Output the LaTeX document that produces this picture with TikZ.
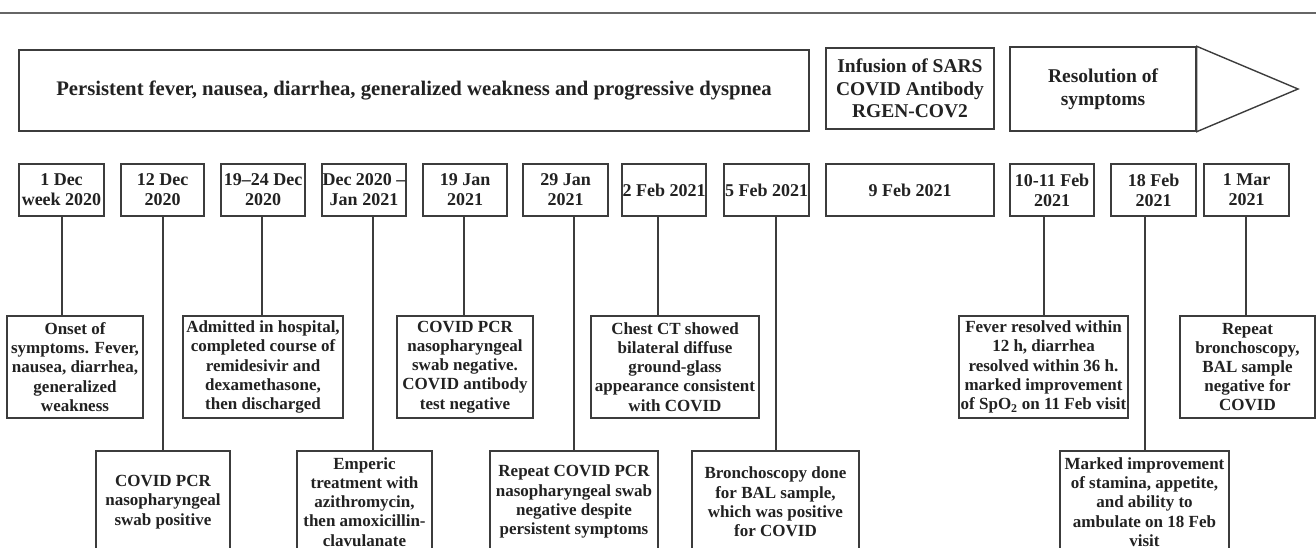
\documentclass[tikz,border=0pt]{standalone}
\usepackage{fontspec}
\setmainfont{Liberation Serif}
\definecolor{linec}{HTML}{3C3C3C}
\definecolor{textc}{HTML}{222222}
\definecolor{rulec}{HTML}{666666}
\tikzset{
  box/.style={draw=linec, line width=1.4pt, fill=white, inner sep=0pt, align=center,
    text=textc, font=\bfseries\fontsize{17}{19.2}\selectfont},
  datebox/.style={box, minimum width=84pt, minimum height=52pt,
    font=\bfseries\fontsize{18}{20}\selectfont},
  topbox/.style={box, minimum height=81pt, font=\bfseries\fontsize{19.5}{22.5}\selectfont},
  evbox/.style={box, minimum height=102pt},
  conn/.style={draw=linec, line width=1.4pt},
  toprule/.style={draw=rulec, line width=2pt}
}
\begin{document}
\begin{tikzpicture}[x=1pt,y=-1pt]
\useasboundingbox (0,0) rectangle (1316,548);
\clip (0,0) rectangle (1316,548);
\draw[toprule] (0,13) -- (1316,13);

% top band
\node[topbox, minimum width=790pt, font=\bfseries\fontsize{20.7}{24}\selectfont] (sym) at (414,90.5) {Persistent fever, nausea, diarrhea, generalized weakness and progressive dyspnea};
\node[topbox, minimum width=168pt] (inf) at (910,88.5) {Infusion of SARS\\COVID Antibody\\RGEN-COV2};
\node[topbox, minimum width=186pt, minimum height=84pt] (res) at (1103,89) {Resolution of\\symptoms};
\coordinate (tip) at (1298,89);
\draw[conn, line join=miter] (res.north east) -- (tip) -- (res.south east) -- cycle;

% date boxes
\node[datebox, minimum width=85pt] (d1) at (61.5,190) {1 Dec\\week 2020};
\node[datebox, minimum width=83pt] (d2) at (162.5,190) {12 Dec\\2020};
\node[datebox] (d3) at (263,190) {19–24 Dec\\2020};
\node[datebox] (d4) at (364,190) {Dec 2020 –\\Jan 2021};
\node[datebox] (d5) at (465,190) {19 Jan\\2021};
\node[datebox, minimum width=85pt] (d6) at (565.5,190) {29 Jan\\2021};
\node[datebox] (d7) at (664,190) {2 Feb 2021};
\node[datebox, minimum width=85pt] (d8) at (766.5,190) {5 Feb 2021};
\node[datebox, minimum width=168pt] (d9) at (910,190) {9 Feb 2021};
\node[datebox] (d10) at (1052,190) {10-11 Feb\\2021};
\node[datebox, minimum width=85pt] (d11) at (1153.5,190) {18 Feb\\2021};
\node[datebox, minimum width=85pt] (d12) at (1246.5,190) {1 Mar\\2021};

% event boxes, upper row
\node[evbox, minimum width=136pt] (b1) at (75,367) {Onset of\\symptoms. Fever,\\nausea, diarrhea,\\generalized\\weakness};
\node[evbox, minimum width=160pt] (b3) at (263,367) {Admitted in hospital,\\completed course of\\remidesivir and\\dexamethasone,\\then discharged};
\node[evbox, minimum width=136pt] (b5) at (465,367) {COVID PCR\\nasopharyngeal\\swab negative.\\COVID antibody\\test negative};
\node[evbox, minimum width=168pt] (b7) at (675,367) {Chest CT showed\\bilateral diffuse\\ground-glass\\appearance consistent\\with COVID};
\node[evbox, minimum width=169pt] (b10) at (1043.5,367) {Fever resolved within\\12 h, diarrhea\\resolved within 36 h.\\marked improvement\\of SpO\textsubscript{2} on 11 Feb visit};
\node[evbox, minimum width=135pt] (b12) at (1247.5,367) {Repeat\\bronchoscopy,\\BAL sample\\negative for\\COVID};

% event boxes, lower row
\node[evbox, minimum width=134pt] (b2) at (163,502) {COVID PCR\\nasopharyngeal\\swab positive};
\node[evbox, minimum width=135pt] (b4) at (364.5,502) {Emperic\\treatment with\\azithromycin,\\then amoxicillin-\\clavulanate};
\node[evbox, minimum width=168pt] (b6) at (574,502) {Repeat COVID PCR\\nasopharyngeal swab\\negative despite\\persistent symptoms};
\node[evbox, minimum width=167pt] (b8) at (775.5,502) {Bronchoscopy done\\for BAL sample,\\which was positive\\for COVID};
\node[evbox, minimum width=169pt] (b11) at (1144.5,502) {Marked improvement\\of stamina, appetite,\\and ability to\\ambulate on 18 Feb\\visit};

% connectors
\draw[conn] (d1.south -| 62,0) -- (b1.north -| 62,0);
\draw[conn] (d2.south -| 163,0) -- (b2.north -| 163,0);
\draw[conn] (d3.south -| 262,0) -- (b3.north -| 262,0);
\draw[conn] (d4.south -| 373,0) -- (b4.north -| 373,0);
\draw[conn] (d5.south -| 464,0) -- (b5.north -| 464,0);
\draw[conn] (d6.south -| 574,0) -- (b6.north -| 574,0);
\draw[conn] (d7.south -| 658,0) -- (b7.north -| 658,0);
\draw[conn] (d8.south -| 776,0) -- (b8.north -| 776,0);
\draw[conn] (d10.south -| 1044,0) -- (b10.north -| 1044,0);
\draw[conn] (d11.south -| 1145,0) -- (b11.north -| 1145,0);
\draw[conn] (d12.south -| 1246,0) -- (b12.north -| 1246,0);
\end{tikzpicture}
\end{document}
